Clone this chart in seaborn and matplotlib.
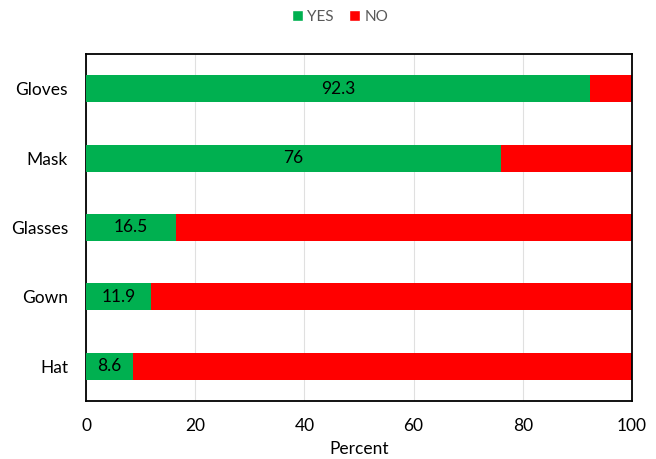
import matplotlib
matplotlib.use("Agg")
import matplotlib.pyplot as plt
import seaborn as sns
import pandas as pd
from matplotlib.patches import Patch

items = ["Gloves", "Mask", "Glasses", "Gown", "Hat"]
yes_pct = [92.3, 76, 16.5, 11.9, 8.6]
no_pct = [7.7, 24, 83.5, 88.1, 91.4]

GREEN = "#00B050"
RED = "#FF0000"

df = pd.DataFrame({"item": items, "yes": yes_pct, "no": no_pct})
df["total"] = df["yes"] + df["no"]

sns.set_theme(style="white")
plt.rcParams["font.family"] = ["Lato", "DejaVu Sans"]

fig = plt.figure(figsize=(6.56, 4.59), dpi=100)
ax = fig.add_axes([86 / 656, 1 - 401 / 459, 546 / 656, 347 / 459])

# stacked bars: full-length NO segment underneath, YES segment on top
sns.barplot(data=df, y="item", x="total", orient="h", color=RED,
            saturation=1, width=0.39, linewidth=0, ax=ax, zorder=2)
sns.barplot(data=df, y="item", x="yes", orient="h", color=GREEN,
            saturation=1, width=0.39, linewidth=0, ax=ax, zorder=3)

for i, v in enumerate(df["yes"]):
    ax.text(v / 2, i, f"{v:g}", ha="center", va="center",
            fontsize=12.5, color="black", zorder=4)

ax.set_xlim(0, 100)
ax.set_ylim(4.5, -0.5)
ax.set_xticks([0, 20, 40, 60, 80, 100])
ax.xaxis.grid(True, color="#e0e0e0", linewidth=0.8, zorder=0)
ax.set_axisbelow(True)
ax.tick_params(axis="y", length=0, labelsize=12.5, colors="black", pad=13)
ax.tick_params(axis="x", length=0, labelsize=12.5, colors="black", pad=12)
ax.set_xlabel("Percent", fontsize=12.5, color="black", labelpad=5)
ax.set_ylabel("")
for s in ax.spines.values():
    s.set_visible(True)
    s.set_color("black")
    s.set_linewidth(1.3)

handles = [Patch(facecolor=GREEN, label="YES"), Patch(facecolor=RED, label="NO")]
fig.legend(handles=handles, loc="center", bbox_to_anchor=(340 / 656, 1 - 17 / 459),
           ncol=2, frameon=False, fontsize=11, handlelength=0.7, handleheight=0.7,
           handletextpad=0.3, columnspacing=1.0, labelcolor="#595959")

fig.savefig("out.png", dpi=100)
